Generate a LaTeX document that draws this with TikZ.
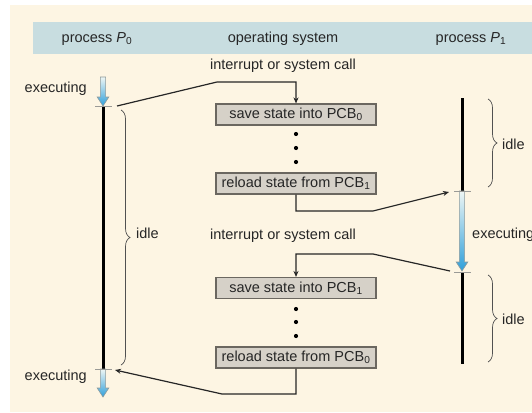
\documentclass[tikz,border=0pt]{standalone}
\usepackage{fontspec}
\setmainfont{Liberation Sans}
\usetikzlibrary{arrows.meta,decorations.pathreplacing}

\definecolor{paper}{HTML}{FDF5E3}
\definecolor{band}{HTML}{C8DDE0}
\definecolor{boxfill}{HTML}{D6D1C8}
\definecolor{boxline}{HTML}{6B6760}
\definecolor{ink}{HTML}{262626}
\definecolor{arrowlight}{HTML}{EEF6F4}
\definecolor{arrowblue}{HTML}{2F9FDA}
\definecolor{arrowedge}{HTML}{8C9A9C}
\definecolor{tickgray}{HTML}{9A9A96}

\tikzset{
  lbl/.style={font=\fontsize{14.5}{17}\selectfont, text=ink, inner sep=0pt},
  pcb/.style={lbl, draw=boxline, fill=boxfill, line width=1.1pt,
              minimum width=160pt, minimum height=21pt},
  conn/.style={draw=ink, line width=1.2pt, -{Stealth[length=6pt,width=5pt]}},
  timeline/.style={line width=3pt, draw=black},
  ticky/.style={draw=tickgray, line width=1pt},
  idlebrace/.style={draw=ink!80, line width=0.7pt, decorate,
                    decoration={brace, amplitude=9pt}},
  dot/.style={circle, fill=black, inner sep=0pt, minimum size=4.2pt}
}

% hollow shaded arrow marking a process that is running
\newcommand{\execarrow}[3]{%
  \path[draw=arrowedge, line width=0.6pt, top color=arrowlight, bottom color=arrowblue]
    (#1-2.6,#2) -- (#1+2.6,#2) -- (#1+2.6,#3-9) -- (#1+5.8,#3-9) -- (#1,#3)
    -- (#1-5.8,#3-9) -- (#1-2.6,#3-9) -- cycle;}

\begin{document}
\begin{tikzpicture}[x=1pt,y=-1pt]
\useasboundingbox (0,0) rectangle (532,412);
\fill[white] (0,0) rectangle (532,412);
\fill[paper] (10,5) rectangle (532,412);
\fill[band] (33,22) rectangle (540,54);

% column headings
\node[lbl] (h0) at (97,39) {process \textit{P}\textsubscript{0}};
\node[lbl] (hos) at (283,39) {operating system};
\node[lbl] (h1) at (471,39) {process \textit{P}\textsubscript{1}};

% process P0 time line
\execarrow{103}{77}{106}
\coordinate (p0a) at (103,106);
\coordinate (p0b) at (103,369);
\draw[timeline] (p0a) -- (p0b);
\execarrow{103}{369}{397}
\draw[ticky] (95,106) -- (112,106);
\draw[ticky] (95,369) -- (112,369);
\coordinate (t0a) at (117,106);
\coordinate (t0b) at (115,370);
\node[lbl, anchor=east] (ex0a) at (87,89) {executing};
\node[lbl, anchor=east] (ex0b) at (87,377) {executing};
\draw[idlebrace] (121,110) -- (121,365);
\node[lbl, anchor=west] (idle0) at (136,233) {idle};

% process P1 time line
\coordinate (p1a) at (462,98);
\coordinate (p1b) at (462,191);
\coordinate (p1c) at (462,272);
\coordinate (p1d) at (462,364);
\draw[timeline] (p1a) -- (p1b);
\execarrow{462}{191}{271}
\draw[timeline] (p1c) -- (p1d);
\draw[ticky] (454,191) -- (471,191);
\draw[ticky] (454,272) -- (471,272);
\coordinate (t1a) at (449,192);
\coordinate (t1b) at (450,271);
\draw[idlebrace] (488,99) -- (488,187);
\node[lbl, anchor=west] (idle1a) at (502,144) {idle};
\node[lbl, anchor=west] (ex1) at (472,235) {executing};
\draw[idlebrace] (488,275) -- (488,362);
\node[lbl, anchor=west] (idle1b) at (502,319) {idle};

% operating system column
\node[lbl] (call0) at (283,66) {interrupt or system call};
\node[pcb] (s0) at (296,114.5) {save state into PCB\textsubscript{0}};
\node[dot] (d1) at (296,134) {};
\node[dot] (d2) at (296,148) {};
\node[dot] (d3) at (296,162) {};
\node[pcb] (r1) at (296,183.5) {reload state from PCB\textsubscript{1}};
\node[lbl] (call1) at (283,236) {interrupt or system call};
\node[pcb] (s1) at (296,288) {save state into PCB\textsubscript{1}};
\node[dot] (d4) at (296,309) {};
\node[dot] (d5) at (296,322) {};
\node[dot] (d6) at (296,336) {};
\node[pcb] (r0) at (296,357.5) {reload state from PCB\textsubscript{0}};

% control transfers
\draw[conn] (t0a) -- (217,82) -| (s0.north);
\draw[conn] (r1.south) |- (373,211) -- (t1a);
\draw[conn] (t1b) -- (373,254) -| (s1.north);
\draw[conn] (r0.south) |- (222,394) -- (t0b);
\end{tikzpicture}
\end{document}
